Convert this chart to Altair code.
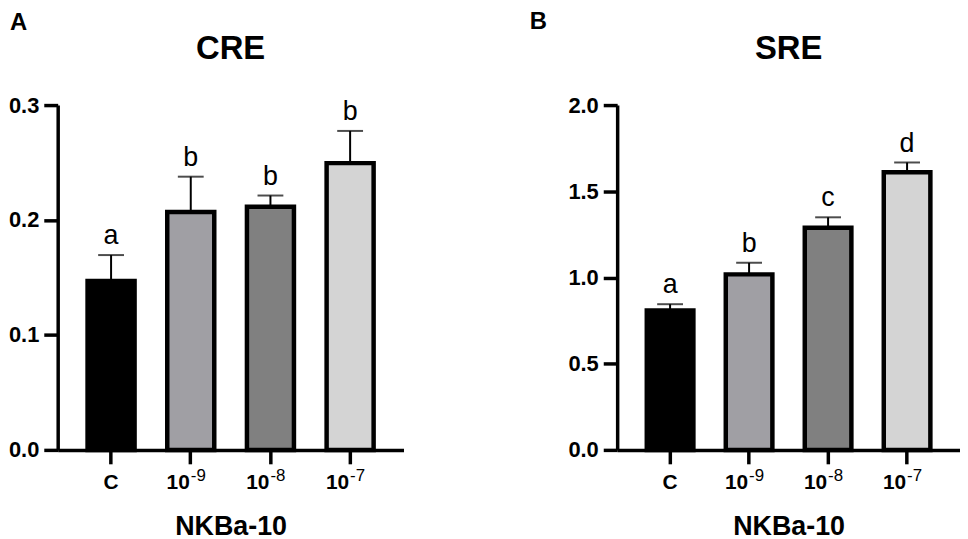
import altair as alt
import pandas as pd

FONT = "Liberation Sans"

cats = ["C", "10-9", "10-8", "10-7"]
base_labels = ["C", "10", "10", "10"]
exps = ["", "-9", "-8", "-7"]
bar_colors = ["#000000", "#a09fa4", "#808080", "#d4d4d4"]

cre_mean = [0.147, 0.207, 0.2115, 0.2495]
cre_err = [0.0225, 0.0307, 0.0098, 0.028]
cre_letters = ["a", "b", "b", "b"]
cre_ticks = [0.0, 0.1, 0.2, 0.3]
cre_max = 0.3

sre_mean = [0.809, 1.018, 1.288, 1.61]
sre_err = [0.036, 0.067, 0.061, 0.057]
sre_letters = ["a", "b", "c", "d"]
sre_ticks = [0.0, 0.5, 1.0, 1.5, 2.0]
sre_max = 2.0

panel_titles = ["CRE", "SRE"]
panel_letters = ["A", "B"]
x_title = "NKBa-10"

H = 347


def panel(mean, err, letters, ticks, ymax, title, letter, w, lx, ly):
    df = pd.DataFrame({"cat": cats, "mean": mean, "err": err,
                       "letter": letters, "lab": base_labels, "exp": exps})
    base = alt.Chart(df).transform_calculate(top="datum.mean + datum.err")
    x_enc = alt.X(
        "cat:N", sort=cats,
        scale=alt.Scale(domain=cats, paddingInner=0.41, paddingOuter=0.375),
        axis=alt.Axis(
            title=x_title, labels=False, tickSize=14, tickWidth=3.5,
            tickColor="black", domainWidth=3.5, domainColor="black",
            titleFont=FONT, titleFontSize=27, titleFontWeight="bold",
            titleColor="black", titlePadding=48),
    )
    y_scale = alt.Scale(domain=[0, ymax], nice=False, zero=True)
    y_enc = alt.Y(
        "mean:Q", scale=y_scale,
        axis=alt.Axis(title=None, values=ticks, format=".1f", grid=False,
                      labelFont=FONT, labelFontSize=22, labelFontWeight="bold",
                      labelColor="black", labelPadding=5, tickSize=14,
                      tickWidth=3.5, tickColor="black", domainWidth=3.5,
                      domainColor="black"),
    )
    bars = base.mark_bar(stroke="black", strokeWidth=4.5).encode(
        x=x_enc, y=y_enc,
        color=alt.Color("cat:N", scale=alt.Scale(domain=cats, range=bar_colors),
                        legend=None),
    )
    rule = base.mark_rule(color="black", strokeWidth=2).encode(
        x=x_enc, y=y_enc, y2="top:Q")
    cap = base.mark_tick(color="black", thickness=2, size=26).encode(
        x=x_enc, y=alt.Y("top:Q", scale=y_scale))
    lett = base.mark_text(font=FONT, fontSize=27, color="black",
                          baseline="alphabetic", dy=-11).encode(
        x=x_enc, y=alt.Y("top:Q", scale=y_scale), text="letter:N")
    lab_c = base.transform_filter("datum.exp == ''").mark_text(
        font=FONT, fontSize=21, fontWeight="bold", color="black",
        align="center", baseline="alphabetic").encode(
        x=x_enc, y=alt.value(H + 39), text="lab:N")
    lab_10 = base.transform_filter("datum.exp != ''").mark_text(
        font=FONT, fontSize=21, fontWeight="bold", color="black",
        align="right", baseline="alphabetic", dx=-1).encode(
        x=x_enc, y=alt.value(H + 39), text="lab:N")
    expo = base.transform_filter("datum.exp != ''").mark_text(
        font=FONT, fontSize=17, color="black", align="left",
        baseline="alphabetic", dx=0).encode(
        x=x_enc, y=alt.value(H + 31), text="exp:N")
    ttl = alt.Chart(pd.DataFrame({"t": [title]})).mark_text(
        font=FONT, fontSize=33, fontWeight="bold", color="black",
        align="center", baseline="alphabetic").encode(
        x=alt.value(w / 2), y=alt.value(-46), text="t:N")
    plet = alt.Chart(pd.DataFrame({"t": [letter]})).mark_text(
        font=FONT, fontSize=24, fontWeight="bold", color="black",
        align="left", baseline="alphabetic").encode(
        x=alt.value(lx), y=alt.value(ly), text="t:N")
    return alt.layer(bars, rule, cap, lett, lab_c, lab_10, expo, ttl, plet).properties(
        width=w, height=H)


left = panel(cre_mean, cre_err, cre_letters, cre_ticks, cre_max,
             panel_titles[0], panel_letters[0], 348, -48, -76)
right = panel(sre_mean, sre_err, sre_letters, sre_ticks, sre_max,
              panel_titles[1], panel_letters[1], 345, -88, -77)

chart = alt.hconcat(left, right, spacing=215, bounds="flush").resolve_scale(
    y="independent").configure_view(stroke=None).properties(
    padding=0, background="white")

chart.save("out.html", embed_options={"renderer": "svg", "actions": False})
